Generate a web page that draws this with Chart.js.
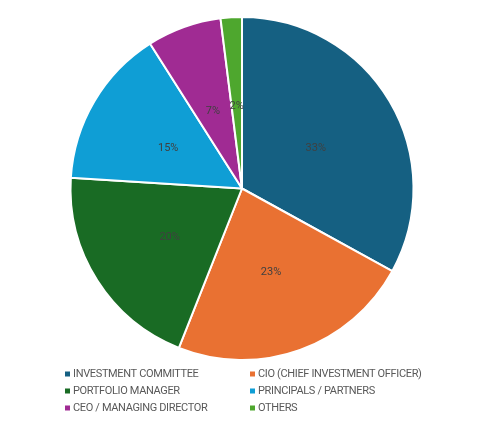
<!DOCTYPE html>
<html>
<head>
<meta charset="utf-8">
<script src="https://cdn.jsdelivr.net/npm/chart.js@4"></script>
<style>
html,body{margin:0;padding:0;background:#fff;}
#wrap{position:relative;width:480px;height:427px;}
</style>
</head>
<body>
<div id="wrap"><canvas id="c" width="480" height="427"></canvas></div>
<script>
const categories = [
  "INVESTMENT COMMITTEE",
  "CIO (CHIEF INVESTMENT OFFICER)",
  "PORTFOLIO MANAGER",
  "PRINCIPALS / PARTNERS",
  "CEO / MANAGING DIRECTOR",
  "OTHERS"
];
const shares = [33, 23, 20, 15, 7, 2];
const colors = ["#156082", "#E97132", "#196B24", "#0F9ED5", "#A02B93", "#4EA72E"];

const FONT = "Roboto, 'Liberation Sans', Arial, sans-serif";

const sliceLabels = {
  id: 'sliceLabels',
  afterDatasetsDraw(chart) {
    const ctx = chart.ctx;
    const meta = chart.getDatasetMeta(0);
    ctx.save();
    ctx.font = "11px " + FONT;
    ctx.fillStyle = "#404040";
    ctx.textAlign = "center";
    ctx.textBaseline = "middle";
    meta.data.forEach((arc, i) => {
      const p = arc.tooltipPosition();
      ctx.fillText(shares[i] + "%", p.x, p.y + 3);
    });
    ctx.restore();
  }
};

const gridLegend = {
  id: 'gridLegend',
  afterDraw(chart) {
    const ctx = chart.ctx;
    const colX = [65, 250];
    const rowY = [374, 391, 408];
    ctx.save();
    ctx.font = "11px " + FONT;
    if ('letterSpacing' in ctx) ctx.letterSpacing = "-0.35px";
    ctx.textBaseline = "middle";
    ctx.textAlign = "left";
    categories.forEach((name, i) => {
      const x = colX[i % 2];
      const y = rowY[Math.floor(i / 2)];
      ctx.fillStyle = colors[i];
      ctx.fillRect(x, y - 2.5, 5, 5);
      ctx.fillStyle = "#595959";
      ctx.fillText(name, x + 8, y + 0.5);
    });
    ctx.restore();
  }
};

new Chart(document.getElementById('c'), {
  type: 'pie',
  data: {
    labels: categories,
    datasets: [{
      data: shares,
      backgroundColor: colors,
      borderColor: '#ffffff',
      borderWidth: 2
    }]
  },
  options: {
    responsive: false,
    animation: false,
    layout: { padding: { top: 16, bottom: 66, left: 4, right: 0 } },
    plugins: {
      legend: { display: false },
      tooltip: { enabled: false }
    }
  },
  plugins: [sliceLabels, gridLegend]
});
</script>
</body>
</html>
